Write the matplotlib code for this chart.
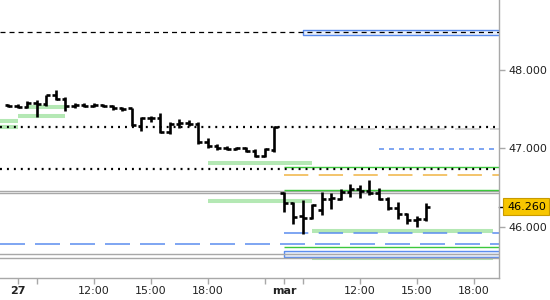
import numpy as np
import pandas as pd
import matplotlib
matplotlib.use('Agg')
import matplotlib.pyplot as plt
import matplotlib.transforms as mtransforms

plt.rcParams['lines.scale_dashes'] = False
plt.rcParams['font.family'] = ['DejaVu Sans']

# 30 min OHLC bars, two sessions (08:00-22:00)
times1 = pd.date_range('2023-02-27 07:30', '2023-02-27 21:30', freq='30min')
open1 = [47.55, 47.54, 47.53, 47.58, 47.57, 47.68, 47.63, 47.54, 47.55, 47.54,
         47.55, 47.54, 47.52, 47.52, 47.29, 47.39, 47.39, 47.21, 47.31, 47.32,
         47.31, 47.08, 47.03, 47.01, 46.99, 47.01, 46.97, 46.90, 46.98]
high1 = [47.57, 47.57, 47.61, 47.62, 47.68, 47.75, 47.66, 47.58, 47.58, 47.58,
         47.57, 47.55, 47.53, 47.52, 47.40, 47.41, 47.45, 47.34, 47.38, 47.36,
         47.34, 47.13, 47.06, 47.03, 47.02, 47.02, 46.99, 47.01, 47.29]
low1 = [47.53, 47.52, 47.52, 47.40, 47.54, 47.62, 47.48, 47.52, 47.53, 47.53,
        47.53, 47.49, 47.48, 47.29, 47.22, 47.34, 47.20, 47.18, 47.26, 47.29,
        47.06, 47.01, 46.98, 46.98, 46.98, 46.96, 46.89, 46.89, 46.96]
close1 = [47.54, 47.53, 47.58, 47.57, 47.68, 47.63, 47.54, 47.55, 47.54, 47.55,
          47.54, 47.52, 47.50, 47.30, 47.39, 47.39, 47.21, 47.31, 47.32, 47.31,
          47.08, 47.03, 47.01, 46.99, 47.01, 46.97, 46.90, 46.99, 47.28]

times2 = pd.date_range('2023-02-28 08:00', '2023-02-28 15:30', freq='30min')
open2 = [46.43, 46.31, 46.14, 46.11, 46.22, 46.36, 46.36, 46.45,
         46.48, 46.46, 46.43, 46.36, 46.24, 46.17, 46.09, 46.10]
high2 = [46.45, 46.32, 46.34, 46.29, 46.45, 46.43, 46.48, 46.55,
         46.54, 46.60, 46.50, 46.38, 46.32, 46.18, 46.14, 46.30]
low2 = [46.19, 46.04, 45.91, 46.10, 46.15, 46.23, 46.34, 46.38,
        46.37, 46.41, 46.34, 46.22, 46.10, 46.04, 46.00, 46.08]
close2 = [46.31, 46.13, 46.11, 46.28, 46.36, 46.37, 46.45, 46.48,
          46.46, 46.43, 46.36, 46.24, 46.17, 46.09, 46.10, 46.26]

last_price = 46.26

# levels
dotted_levels = [47.27, 46.74]
top_dashed_levels = [48.48]
gray_levels = [46.46, 46.43, 45.65, 45.61]
blue_long_levels = [45.78]
blue_session_levels = [45.92]
green_levels = [46.76, 46.465, 45.74]
orange_levels = [46.66]
gray_dash_level = 47.25
gray_dash_from = '2023-02-28 11:30'
blue_short_level = 46.99
blue_short_from = '2023-02-28 13:00'

band_price = [47.525, 47.41, 47.35, 47.27, 46.82, 46.335, 45.95, 45.605]
band_from = ['2023-02-27 08:30', '2023-02-27 08:00', '2023-02-27 07:00', '2023-02-27 07:00',
             '2023-02-27 18:00', '2023-02-27 18:00', '2023-02-28 09:30', '2023-02-28 09:30']
band_to = ['2023-02-27 10:30', '2023-02-27 10:30', '2023-02-27 08:00', '2023-02-27 08:00',
           '2023-02-28 09:30', '2023-02-28 09:30', '2023-02-28 19:00', '2023-02-28 19:00']

zone_low = [48.44, 45.62]
zone_high = [48.505, 45.70]
zone_from = ['2023-02-28 09:00', '2023-02-28 08:00']

tick_times = ['2023-02-27 08:00', '2023-02-27 12:00', '2023-02-27 15:00', '2023-02-27 18:00',
              '2023-02-28 08:00', '2023-02-28 12:00', '2023-02-28 15:00', '2023-02-28 18:00']
tick_labels = ['27', '12:00', '15:00', '18:00', 'mar', '12:00', '15:00', '18:00']
minor_times = ['2023-02-27 09:00', '2023-02-27 21:00', '2023-02-28 09:00']

day0 = pd.Timestamp('2023-02-27')


def pos(ts):
    ts = pd.Timestamp(ts)
    return (ts.normalize() - day0).days * 14 + ts.hour + ts.minute / 60 - 8


x1 = [pos(t) for t in times1]
x2 = [pos(t) for t in times2]
x = np.array(x1 + x2)
o = np.array(open1 + open2)
h = np.array(high1 + high2)
l = np.array(low1 + low2)
c = np.array(close1 + close2)

fig = plt.figure(figsize=(5.5, 3), dpi=100)
ax = fig.add_axes([0, 22 / 300, 499 / 550, 278 / 300])
x_left, x_right = -0.947, 25.316
ax.set_xlim(x_left, x_right)
ax.set_ylim(45.35, 48.892)

# green bands
for p, a, b in zip(band_price, band_from, band_to):
    ax.hlines(p, pos(a), pos(b), color='#b4e8b4', lw=2.9, zorder=1)

# shaded zones
for lo, hi, a in zip(zone_low, zone_high, zone_from):
    ax.fill_between([pos(a), x_right + 1], lo, hi, facecolor='#eaf0fb',
                    edgecolor='#5b8def', lw=1.0, zorder=1.5)

for p in gray_levels:
    ax.axhline(p, color='#a8a8a8', lw=1.0, zorder=2)
for p in top_dashed_levels:
    ax.axhline(p, color='black', lw=0.9, dashes=(3.6, 2.9), zorder=3)
for p in dotted_levels:
    ax.axhline(p, color='black', lw=1.6, dashes=(1.4, 3.6), zorder=3)
for p in blue_long_levels:
    ax.axhline(p, color='#5b8def', lw=1.1, dashes=(18, 7.2), zorder=2)

start2 = pos(times2[0])
for p in blue_session_levels:
    ax.hlines(p, start2, x_right + 1, color='#5b8def', lw=1.1,
              linestyles=[(0, (17.5, 7.5))], zorder=2)
for p in green_levels:
    ax.hlines(p, start2, x_right + 1, color='#3cc83c', lw=1.0, zorder=2)
for p in orange_levels:
    ax.hlines(p, start2, x_right + 1, color='#f0b444', lw=1.1,
              linestyles=[(0, (17.5, 7.5))], zorder=2)
ax.hlines(gray_dash_level, pos(gray_dash_from), x_right + 1, color='#c8c8c8', lw=1.1,
          linestyles=[(0, (18, 7.2))], zorder=2)
ax.hlines(blue_short_level, pos(blue_short_from), x_right + 1, color='#5b8def', lw=1.1,
          linestyles=[(0, (3.6, 3.6))], zorder=2)

# OHLC bars
w = 0.2
ax.vlines(x, l, h, color='black', lw=1.9, zorder=5)
ax.hlines(o, x - w, x, color='black', lw=1.9, zorder=5)
ax.hlines(c, x, x + w, color='black', lw=1.9, zorder=5)

# axes styling
for side in ['left', 'top']:
    ax.spines[side].set_visible(False)
for side in ['right', 'bottom']:
    ax.spines[side].set_color('#a8a8a8')
    ax.spines[side].set_linewidth(1.0)

ax.yaxis.tick_right()
ax.set_yticks([46, 47, 48])
ax.set_yticklabels(['%.3f' % v for v in [46, 47, 48]])
ax.set_xticks([pos(t) for t in tick_times])
ax.set_xticklabels(tick_labels)
ax.set_xticks([pos(t) for t in minor_times], minor=True)
for i in [0, 4]:
    ax.get_xticklabels()[i].set_fontweight('bold')
ax.tick_params(axis='both', which='both', colors='#a8a8a8', labelcolor='#222222',
               labelsize=8, length=4, width=1)
ax.tick_params(axis='y', pad=3)
ax.tick_params(axis='x', pad=2)

# last price label
trans = mtransforms.blended_transform_factory(ax.transAxes, ax.transData)
ax.plot([1.0, 1.012], [last_price, last_price], color='black', lw=1.0,
        transform=trans, clip_on=False)
ax.text(1.016, last_price, '%.3f' % last_price, transform=trans, fontsize=8,
        va='center', ha='left', color='black',
        bbox=dict(boxstyle='square,pad=0.32', facecolor='#f7c600', edgecolor='#c89a00', lw=0.8))

fig.savefig('out.png', dpi=100)
